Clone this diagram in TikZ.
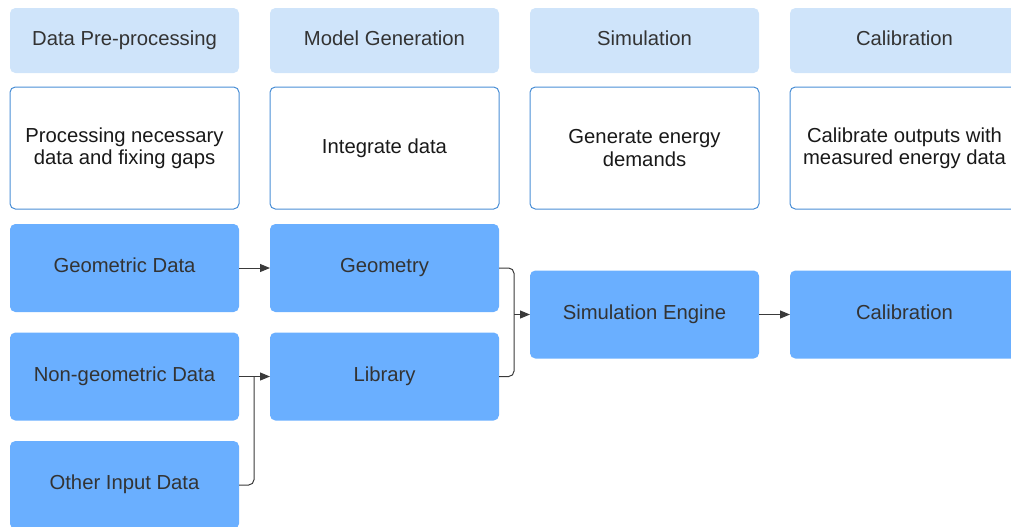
\documentclass[tikz,border=0pt]{standalone}
\usepackage{fontspec}
\setmainfont{Liberation Sans}
\usetikzlibrary{arrows.meta}
\definecolor{hdr}{HTML}{CFE4FA}
\definecolor{blu}{HTML}{6AAFFF}
\definecolor{bord}{HTML}{4A8FD6}
\definecolor{txt}{HTML}{333333}
\definecolor{lin}{HTML}{3A3A3A}
\tikzset{
  base/.style={rectangle, rounded corners=4pt, inner sep=0pt, outer sep=0pt, minimum width=171.75pt, align=center, font=\fontsize{15.2}{16.8}\selectfont},
  one/.style={text height=10.8pt, text depth=4pt},
  hbox/.style={base, one, fill=hdr, minimum height=48.75pt, text=txt},
  wbox/.style={base, fill=white, draw=bord, line width=0.75pt, minimum height=91.5pt, text=black!90},
  bbox/.style={base, one, fill=blu, minimum height=66pt, text=txt},
  conn/.style={draw=lin, line width=0.75pt},
  arr/.style={conn, -{Triangle[length=7.5pt,width=6pt]}},
}
\begin{document}
\begin{tikzpicture}[x=0.75pt,y=-0.75pt]
\useasboundingbox (0,0) rectangle (1011,526);
\clip (0,0) rectangle (1011,526);
% headers
\node[hbox] (h1) at (124.5,40.5) {Data Pre-processing};
\node[hbox] (h2) at (384.5,40.5) {Model Generation};
\node[hbox] (h3) at (644.5,40.5) {Simulation};
\node[hbox] (h4) at (904.5,40.5) {Calibration};
% descriptions
\node[wbox] (d1) at (124.5,148) {Processing necessary\\data and fixing gaps};
\node[wbox] (d2) at (384.5,148) {Integrate data};
\node[wbox] (d3) at (644.5,148) {Generate energy\\demands};
\node[wbox] (d4) at (904.5,148) {Calibrate outputs with\\measured energy data};
% blue boxes
\node[bbox] (geo) at (124.5,268) {Geometric Data};
\node[bbox] (ngeo) at (124.5,376.5) {Non-geometric Data};
\node[bbox] (oth) at (124.5,485) {Other Input Data};
\node[bbox] (geom) at (384.5,268) {Geometry};
\node[bbox] (lib) at (384.5,376.5) {Library};
\node[bbox] (sim) at (644.5,314.5) {Simulation Engine};
\node[bbox] (cal) at (904.5,314.5) {Calibration};
% connectors
\coordinate (j1) at (254,376.5);
\coordinate (j2) at (514,314.5);
\draw[arr] (geo.east) -- (geom.west);
\draw[arr] (ngeo.east) -- (lib.west);
\draw[conn, rounded corners=4pt] (oth.east) -| (j1);
\draw[conn, rounded corners=4pt] (geom.east) -| (j2);
\draw[conn, rounded corners=4pt] (lib.east) -| (j2);
\draw[arr] (j2) -- (sim.west);
\draw[arr] (sim.east) -- (cal.west);
\end{tikzpicture}
\end{document}
